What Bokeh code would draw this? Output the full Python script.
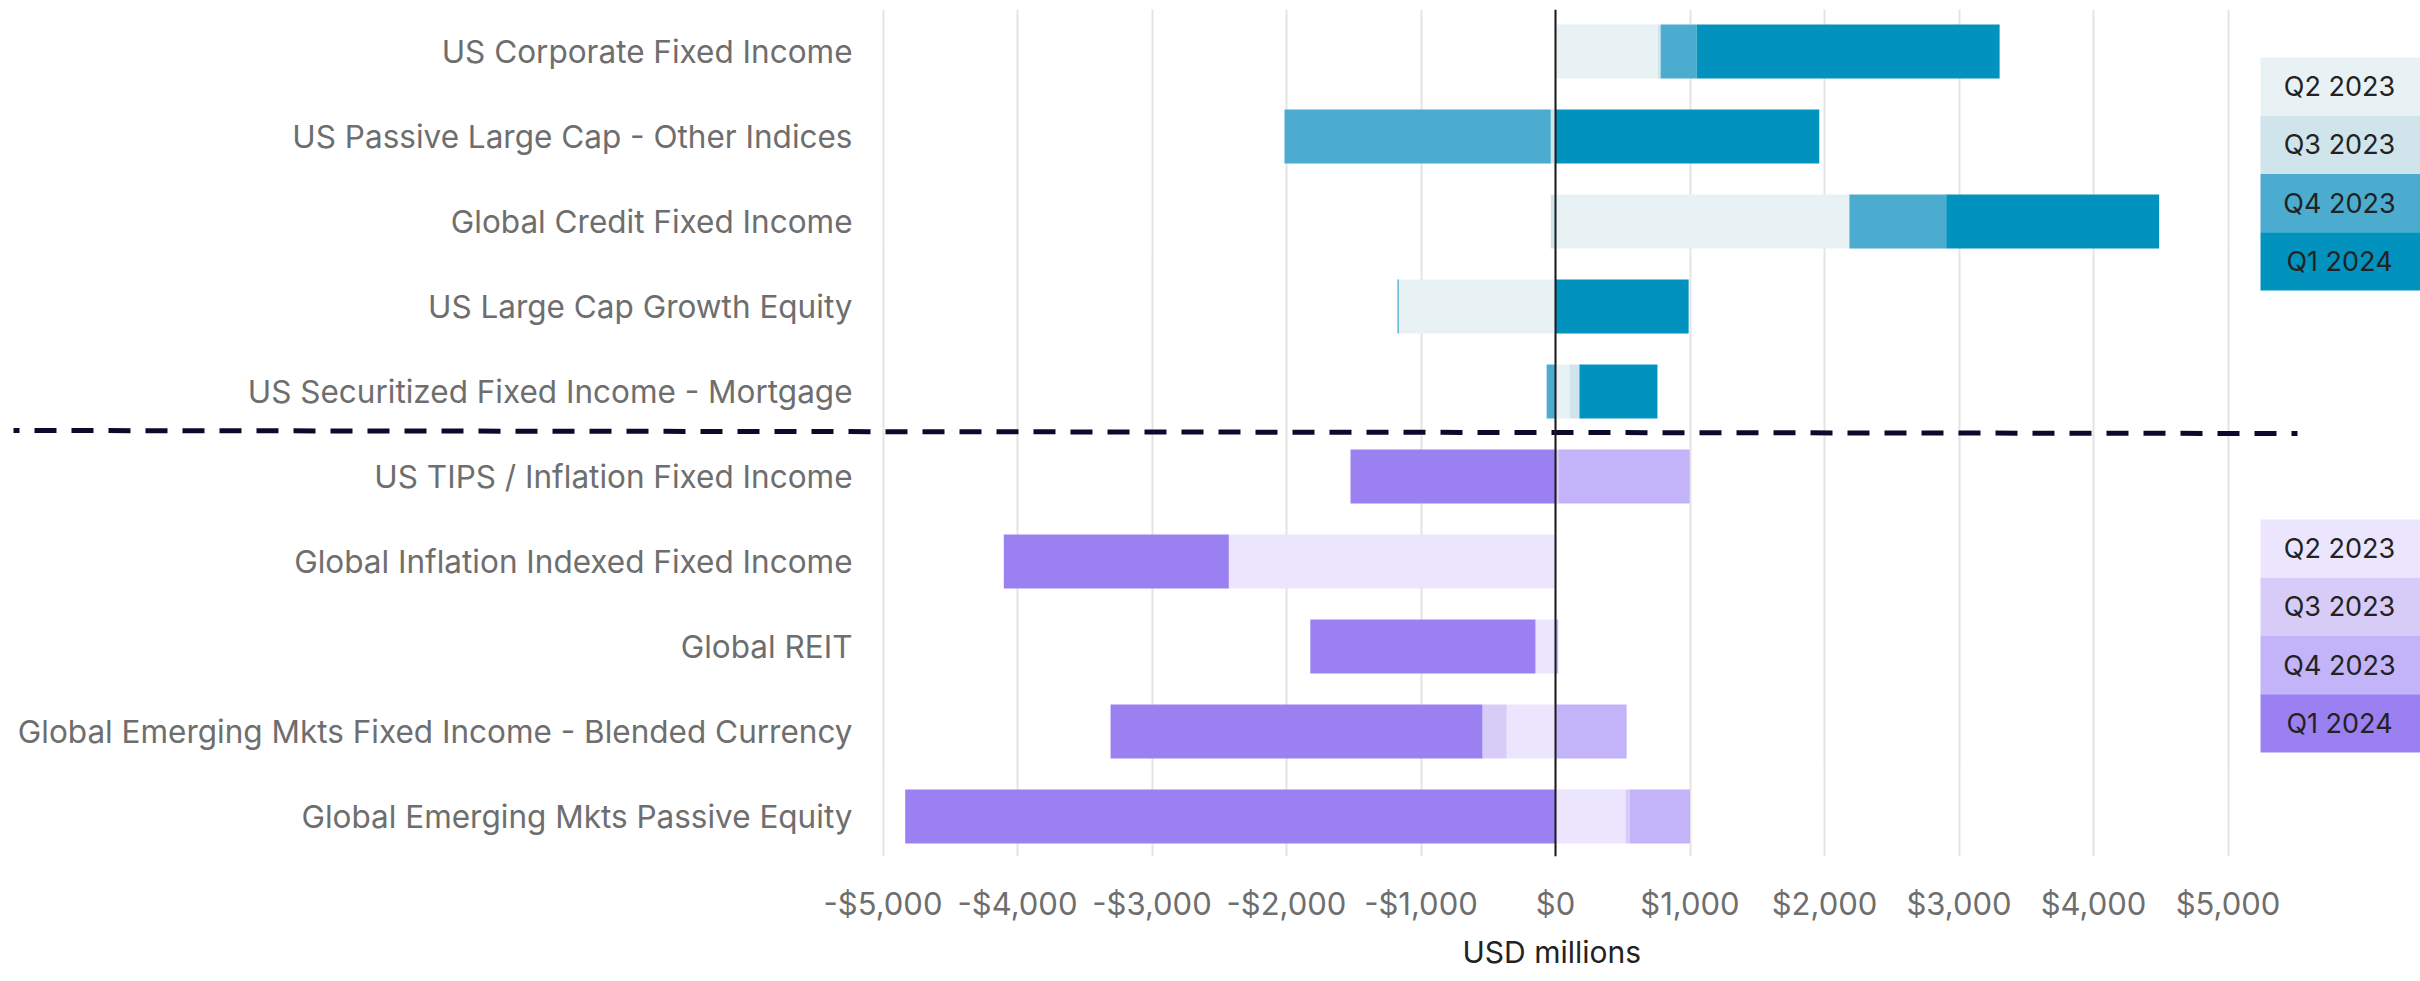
import numpy as np
from bokeh.plotting import figure
from bokeh.models import Range1d, FixedTicker, Span, Title
from bokeh.core.properties import value
from bokeh.embed import file_html
from bokeh.resources import INLINE

# ---------------- data ----------------
categories = [
    "US Corporate Fixed Income",
    "US Passive Large Cap - Other Indices",
    "Global Credit Fixed Income",
    "US Large Cap Growth Equity",
    "US Securitized Fixed Income - Mortgage",
    "US TIPS / Inflation Fixed Income",
    "Global Inflation Indexed Fixed Income",
    "Global REIT",
    "Global Emerging Mkts Fixed Income - Blended Currency",
    "Global Emerging Mkts Passive Equity",
]
quarters = ["Q2 2023", "Q3 2023", "Q4 2023", "Q1 2024"]
q2_2023 = [760, 0, 2185, -1165, 104, 0, -2429, -149, -363, 521]
q3_2023 = [22, -35, -35, 0, 74, 25, 0, 0, -180, 30]
q4_2023 = [268, -1980, 720, -10, -66, 973, 0, 20, 529, 449]
q1_2024 = [2252, 1961, 1583, 990, 580, -1524, -1673, -1674, -2765, -4835]
groups = ["top", "top", "top", "top", "top",
          "bottom", "bottom", "bottom", "bottom", "bottom"]
x_ticks = [-5000, -4000, -3000, -2000, -1000, 0, 1000, 2000, 3000, 4000, 5000]
tick_labels = ["-$5,000", "-$4,000", "-$3,000", "-$2,000", "-$1,000", "$0",
               "$1,000", "$2,000", "$3,000", "$4,000", "$5,000"]

blue_palette = ["#E8F1F4", "#D0E4EC", "#4BACCF", "#0292BE"]
purple_palette = ["#EBE5FD", "#D7CBF8", "#C3B3F8", "#9B80F2"]

# ---------------- layout constants (canvas px) ----------------
W, H = 2420, 981
FRAME_TOP = 9
FRAME_BOTTOM = 856
PX_PER_UNIT = 0.1345          # pixels per USD million
ZERO_PX = 1555                # zero line, px from canvas left
ROW_PX = 85                   # px per row
ROW0_PX = 51                  # first row centre, px from canvas top
FONT = "Inter"


def dx(px):
    return (px - ZERO_PX) / PX_PER_UNIT


def dy(py):
    return (py - ROW0_PX) / ROW_PX


p = figure(width=W, height=H, output_backend="svg", toolbar_location=None,
           x_range=Range1d(dx(0), dx(W)),
           y_range=Range1d(dy(FRAME_BOTTOM), dy(FRAME_TOP)),
           y_axis_location=None, min_border_left=0, min_border_right=0,
           min_border_top=FRAME_TOP, min_border_bottom=H - FRAME_BOTTOM)
p.outline_line_color = None
p.background_fill_color = "white"
p.border_fill_color = "white"

# grid
p.ygrid.visible = False
p.xgrid.ticker = FixedTicker(ticks=x_ticks)
p.xgrid.grid_line_color = "#E4E4E4"
p.xgrid.grid_line_width = 2

# axis
ax = p.xaxis[0]
ax.ticker = FixedTicker(ticks=x_ticks)
ax.major_label_overrides = {t: l for t, l in zip(x_ticks, tick_labels)}
ax.axis_line_color = None
ax.major_tick_line_color = None
ax.minor_tick_line_color = None
ax.major_label_standoff = 22
ax.major_label_text_font = FONT
ax.major_label_text_font_size = "31px"
ax.major_label_text_color = "#6E6E6E"

# axis title centred on the zero line
p.add_layout(Title(text="USD millions", align="left", offset=1462,
                   text_font=FONT, text_font_size="30px", text_font_style="normal",
                   text_color="#222222", standoff=14), "below")

# ---------------- stacked diverging bars ----------------
vals = np.array([q2_2023, q3_2023, q4_2023, q1_2024], dtype=float)
pos = np.clip(vals, 0, None)
neg = np.clip(vals, None, 0)
pos_right = np.cumsum(pos, axis=0)
pos_left = pos_right - pos
neg_left = np.cumsum(neg, axis=0)
neg_right = neg_left - neg
rows = np.arange(len(categories))

for k in range(len(quarters)):
    v = vals[k]
    mask = v != 0
    left = np.where(v >= 0, pos_left[k], neg_left[k])
    right = np.where(v >= 0, pos_right[k], neg_right[k])
    colors = [blue_palette[k] if g == "top" else purple_palette[k] for g in groups]
    p.hbar(y=rows[mask], left=left[mask], right=right[mask], height=54 / ROW_PX,
           fill_color=[c for c, m in zip(colors, mask) if m], line_color=None)

# category labels
p.text(x=[dx(852)] * len(categories), y=rows, text=categories,
       text_align="right", text_baseline="middle",
       text_font=value(FONT), text_font_size="31.5px", text_color="#6E6E6E")

# zero line
p.add_layout(Span(location=0, dimension="height", line_color="#1A1A1A", line_width=2))

# separator dashed line
p.line(x=[dx(13), dx(2297)], y=[dy(430), dy(433)], line_width=5, line_color="#0B0A2C",
       line_dash="22 15", line_dash_offset=16, line_cap="butt")

# ---------------- legends (coloured boxes) ----------------
box_h = 58.25 / ROW_PX
for top_px, pal in [(57, blue_palette), (519, purple_palette)]:
    tops = [dy(top_px) + i * box_h for i in range(4)]
    bots = [t + box_h for t in tops]
    p.quad(left=dx(2260), right=dx(W), top=tops, bottom=bots,
           fill_color=pal, line_color=None)
    p.text(x=[dx(2339)] * 4, y=[t + box_h / 2 for t in tops], text=quarters,
           text_align="center", text_baseline="middle",
           text_font=value(FONT), text_font_size="27px", text_color="#222222")

open("out.html", "w").write(file_html(p, INLINE))
